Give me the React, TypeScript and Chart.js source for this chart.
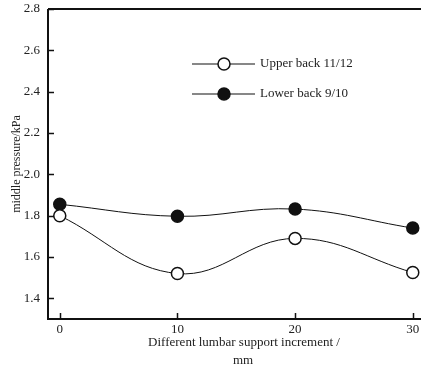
import React, { useEffect, useRef } from "react";
import { Chart, registerables } from "chart.js";

Chart.register(...registerables);

const increments = [0, 10, 20, 30];
const upperBack = [1.8, 1.52, 1.69, 1.525];
const lowerBack = [1.855, 1.797, 1.832, 1.74];
const seriesNames = ["Upper back 11/12", "Lower back 9/10"];
const yTicks = [1.4, 1.6, 1.8, 2.0, 2.2, 2.4, 2.6, 2.8];
const xTicks = [0, 10, 20, 30];
const yTitle = "middle pressure/kPa";
const xTitleLines = ["Different lumbar support increment /", "mm"];

const FONT = "'Liberation Serif', 'Times New Roman', serif";

const decorPlugin = {
  id: "decor",
  afterDraw(chart: any) {
    const { ctx, chartArea, scales } = chart;
    const x = scales.x;
    const y = scales.y;
    ctx.save();
    ctx.strokeStyle = "#111";
    ctx.lineWidth = 2;
    ctx.beginPath();
    ctx.moveTo(chartArea.left, chartArea.top);
    ctx.lineTo(chartArea.left, chartArea.bottom);
    ctx.lineTo(chartArea.right, chartArea.bottom);
    ctx.moveTo(chartArea.left, chartArea.top);
    ctx.lineTo(chartArea.right, chartArea.top);
    ctx.stroke();
    ctx.lineWidth = 1.5;
    ctx.beginPath();
    yTicks.forEach((v) => {
      const py = Math.round(y.getPixelForValue(v)) + 0.5;
      ctx.moveTo(chartArea.left, py);
      ctx.lineTo(chartArea.left + 6, py);
    });
    xTicks.forEach((v) => {
      const px = Math.round(x.getPixelForValue(v)) + 0.5;
      ctx.moveTo(px, chartArea.bottom);
      ctx.lineTo(px, chartArea.bottom - 6);
    });
    ctx.stroke();

    ctx.fillStyle = "#222";
    ctx.font = "13px " + FONT;
    ctx.textAlign = "right";
    ctx.textBaseline = "middle";
    yTicks.forEach((v) => {
      ctx.fillText(v.toFixed(1), chartArea.left - 8, y.getPixelForValue(v));
    });
    ctx.textAlign = "center";
    ctx.textBaseline = "top";
    xTicks.forEach((v) => {
      ctx.fillText(String(v), x.getPixelForValue(v), chartArea.bottom + 4);
    });

    ctx.font = "13px " + FONT;
    ctx.textBaseline = "middle";
    ctx.fillText(xTitleLines[0], 244, 343);
    ctx.fillText(xTitleLines[1], 243, 361);
    ctx.font = "12px " + FONT;
    ctx.save();
    ctx.translate(17, 164);
    ctx.rotate(-Math.PI / 2);
    ctx.fillText(yTitle, 0, 0);
    ctx.restore();

    const ds = chart.data.datasets;
    const rows = [64, 94];
    ds.forEach((d: any, i: number) => {
      const ly = rows[i];
      ctx.strokeStyle = "#111";
      ctx.lineWidth = 1.2;
      ctx.beginPath();
      ctx.moveTo(192, ly);
      ctx.lineTo(255, ly);
      ctx.stroke();
      ctx.beginPath();
      ctx.arc(224, ly, 6, 0, Math.PI * 2);
      ctx.fillStyle = d.pointBackgroundColor;
      ctx.fill();
      ctx.lineWidth = 1.5;
      ctx.stroke();
      ctx.fillStyle = "#222";
      ctx.font = "13px " + FONT;
      ctx.textAlign = "left";
      ctx.textBaseline = "middle";
      ctx.fillText(d.label, 260, ly);
    });
    ctx.restore();
  },
};

export default function App() {
  const ref = useRef<HTMLCanvasElement | null>(null);
  useEffect(() => {
    if (!ref.current) return;
    const chart = new Chart(ref.current, {
      type: "line",
      data: {
        datasets: [
          {
            label: seriesNames[0],
            data: increments.map((x, i) => ({ x, y: upperBack[i] })),
            borderColor: "#111",
            borderWidth: 1,
            pointRadius: 6,
            pointBorderWidth: 1.5,
            pointBackgroundColor: "#ffffff",
            pointBorderColor: "#111",
            tension: 0.4,
          },
          {
            label: seriesNames[1],
            data: increments.map((x, i) => ({ x, y: lowerBack[i] })),
            borderColor: "#111",
            borderWidth: 1,
            pointRadius: 6,
            pointBorderWidth: 1.5,
            pointBackgroundColor: "#111111",
            pointBorderColor: "#111",
            tension: 0.4,
          },
        ],
      },
      options: {
        animation: false,
        responsive: false,
        layout: { autoPadding: false, padding: { left: 48, top: 9, right: 0, bottom: 49 } },
        plugins: { legend: { display: false }, tooltip: { enabled: false } },
        scales: {
          x: { type: "linear", min: -1, max: 30.7, display: false },
          y: { min: 1.3, max: 2.8, display: false },
        },
      },
      plugins: [decorPlugin],
    });
    return () => chart.destroy();
  }, []);
  return (
    <div style={{ position: "absolute", left: 0, top: 0, width: 421, height: 368, background: "#fff" }}>
      <canvas ref={ref} width={421} height={368} style={{ width: 421, height: 368 }} />
    </div>
  );
}
